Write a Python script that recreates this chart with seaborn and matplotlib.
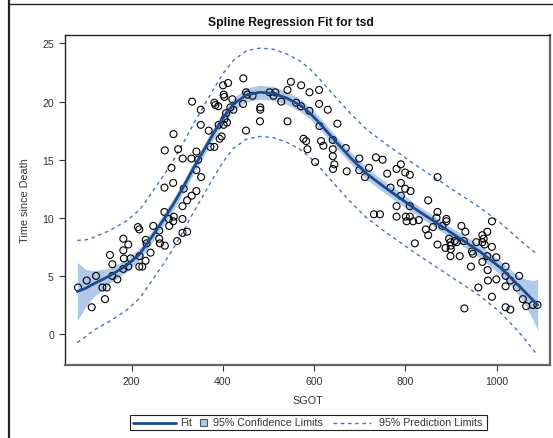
import numpy as np
import pandas as pd
import matplotlib
matplotlib.use("Agg")
import matplotlib.pyplot as plt
from matplotlib.lines import Line2D
from matplotlib.patches import Rectangle
import seaborn as sns

# Observations: SGOT vs. time since death
sgot = [82.6, 101.6, 112.6, 122.0, 136.0, 145.4, 141.6, 152.6, 157.8, 157.8,
        168.7, 181.8, 192.7, 181.8, 183.0, 197.8, 181.8, 192.7, 217.5, 216.8,
        223.4, 230.6, 213.8, 216.8, 231.0, 232.8, 241.5, 247.4, 260.5, 260.5,
        262.0, 272.8, 272.0, 281.5, 282.3, 292.5, 291.1, 299.8, 311.5, 321.7,
        311.5, 311.5, 321.7, 331.8, 342.0, 272.0, 291.1, 314.3, 287.4, 272.8,
        291.8, 302.0, 312.0, 331.0, 342.0, 345.8, 342.0, 352.3, 332.6, 351.5,
        351.5, 369.0, 372.7, 381.4, 381.4, 383.6, 390.0, 400.4, 411.4, 401.7,
        403.3, 420.8, 406.9, 403.9, 401.7, 409.0, 390.8, 397.4, 392.9, 416.4,
        423.0, 444.8, 450.7, 453.6, 444.2, 465.1, 450.7, 482.0, 482.0, 481.3,
        502.3, 514.8, 511.0, 527.9, 541.7, 549.1, 560.7, 571.6, 571.0, 541.7,
        576.6, 582.5, 585.4, 589.8, 589.8, 610.9, 610.9, 629.9, 651.0, 611.6,
        602.2, 615.3, 620.3, 640.9, 640.9, 640.9, 644.4, 641.5, 671.5, 669.3,
        699.0, 699.0, 720.2, 711.5, 735.5, 750.1, 760.2, 780.7, 790.1, 799.6,
        809.8, 790.1, 767.5, 799.6, 811.4, 790.1, 780.7, 809.8, 731.1, 744.3,
        780.7, 801.0, 809.8, 802.6, 817.0, 829.5, 850.0, 870.4, 870.4, 868.2,
        890.0, 890.0, 881.3, 844.8, 850.0, 860.5, 820.8, 870.4, 887.9, 895.7,
        898.8, 899.5, 899.5, 908.2, 912.6, 922.8, 931.5, 927.9, 898.8, 919.1,
        946.0, 948.2, 955.6, 968.7, 971.6, 968.7, 979.6, 989.7, 989.7, 979.6,
        999.3, 973.8, 929.3, 943.8, 968.7, 960.0, 980.3, 981.0, 989.7, 999.3,
        1019.7, 1019.7, 1019.7, 1030.0, 1019.7, 1030.0, 1049.4, 1044.4, 1057.5, 1064.8,
        1079.4, 1089.6]
tsd = [4.0, 4.6, 2.3, 5.0, 4.0, 4.0, 3.0, 6.8, 6.0, 5.0,
       4.7, 8.2, 7.7, 7.2, 6.5, 6.5, 5.6, 5.8, 6.7, 5.8,
       5.8, 6.3, 9.2, 9.0, 8.1, 7.8, 7.0, 9.3, 8.9, 8.2,
       7.8, 7.6, 10.5, 9.9, 9.3, 10.1, 9.7, 8.0, 8.7, 8.8,
       9.9, 11.0, 11.5, 11.9, 12.3, 12.6, 13.0, 12.5, 14.3, 15.8,
       17.2, 15.9, 15.1, 15.1, 15.7, 15.0, 14.1, 13.5, 20.0, 19.3,
       18.0, 17.5, 16.1, 16.1, 19.9, 19.7, 19.6, 21.4, 21.6, 20.6,
       20.4, 20.2, 19.0, 18.5, 18.0, 18.2, 18.0, 17.0, 16.8, 19.5,
       19.3, 22.0, 20.8, 20.6, 19.8, 20.5, 17.5, 19.5, 19.3, 18.3,
       20.8, 20.8, 20.5, 20.0, 21.0, 21.7, 19.9, 21.4, 19.6, 18.3,
       16.8, 16.6, 15.9, 20.8, 19.2, 21.0, 19.8, 19.3, 18.1, 17.9,
       14.8, 16.6, 16.2, 16.7, 15.9, 15.3, 14.6, 14.2, 14.0, 16.0,
       15.1, 14.1, 14.3, 13.5, 15.2, 15.0, 13.8, 14.2, 14.6, 13.9,
       13.7, 13.0, 12.6, 12.5, 12.3, 11.9, 11.0, 11.0, 10.3, 10.3,
       10.1, 10.1, 10.1, 9.7, 9.7, 9.8, 11.5, 13.5, 10.5, 10.0,
       9.9, 9.7, 9.3, 9.0, 8.5, 9.2, 7.8, 7.7, 7.4, 8.2,
       7.9, 7.6, 7.3, 8.0, 7.9, 9.3, 8.8, 8.0, 6.7, 6.7,
       7.1, 6.9, 7.9, 7.9, 8.2, 8.5, 8.8, 9.7, 7.5, 6.7,
       6.6, 7.7, 2.2, 5.8, 6.2, 4.0, 5.5, 4.6, 3.2, 4.7,
       5.8, 5.0, 4.1, 4.6, 2.3, 2.1, 5.0, 4.0, 3.0, 2.4,
       2.5, 2.5]

# Spline fit with half-widths of the 95% confidence and prediction limits
curve_x = [81, 100, 116, 152, 189, 218, 245, 271, 292, 314,
           336, 358, 380, 402, 424, 453, 482, 511, 540, 569,
           591, 613, 642, 679, 715, 759, 788, 824, 861, 897,
           934, 963, 1007, 1036, 1050, 1065, 1080, 1090]
fit_y = [3.65, 3.95, 4.3, 5.0, 5.9, 6.9, 8.4, 9.9, 11.2, 12.7,
         14.3, 15.8, 17.3, 18.7, 19.8, 20.6, 20.8, 20.7, 20.3, 19.7,
         19.0, 18.1, 16.8, 15.2, 13.8, 12.5, 11.7, 10.7, 9.75, 8.8,
         7.85, 7.1, 5.75, 4.65, 4.1, 3.5, 2.9, 2.5]
cl_half = [2.5, 1.6, 1.15, 0.65, 0.55, 0.5, 0.5, 0.5, 0.5, 0.5,
           0.5, 0.5, 0.5, 0.5, 0.55, 0.6, 0.6, 0.6, 0.55, 0.55,
           0.5, 0.5, 0.5, 0.5, 0.5, 0.5, 0.5, 0.45, 0.45, 0.45,
           0.5, 0.55, 0.6, 0.7, 0.85, 1.2, 1.7, 2.2]
pl_half = [4.4, 4.15, 4.0, 3.9, 3.85, 3.8, 3.8, 3.8, 3.8, 3.8,
           3.8, 3.8, 3.8, 3.8, 3.8, 3.8, 3.8, 3.8, 3.8, 3.8,
           3.8, 3.8, 3.8, 3.8, 3.8, 3.8, 3.8, 3.8, 3.8, 3.8,
           3.8, 3.8, 3.85, 3.95, 4.0, 4.1, 4.25, 4.35]

x_ticks = [200, 400, 600, 800, 1000]
y_ticks = [0, 5, 10, 15, 20, 25]
legend_labels = ["Fit", "95% Confidence Limits", "95% Prediction Limits"]

sns.set_style("white")
plt.rcParams["font.family"] = ["Liberation Sans", "DejaVu Sans"]

FIT = "#1f4a8c"
BAND = "#b0c9e8"
PRED = "#4a72b8"
TEXT = "#333333"
DASH = (0, (2.6, 2.6))

obs = pd.DataFrame({"SGOT": sgot, "tsd": tsd})
curve = pd.DataFrame({"SGOT": curve_x, "fit": fit_y, "cl": cl_half, "pl": pl_half})
curve["cl_lo"] = curve["fit"] - curve["cl"]
curve["cl_hi"] = curve["fit"] + curve["cl"]
curve["pl_lo"] = curve["fit"] - curve["pl"]
curve["pl_hi"] = curve["fit"] + curve["pl"]

W, H = 553, 439
fig = plt.figure(figsize=(W / 100, H / 100), dpi=100)
ax = fig.add_axes([65 / W, (H - 366) / H, (550 - 65) / W, (366 - 36) / H])

ax.fill_between(curve["SGOT"], curve["cl_lo"], curve["cl_hi"], color=BAND, lw=0, zorder=1)
sns.lineplot(data=curve, x="SGOT", y="pl_lo", ax=ax, color=PRED, lw=1.0,
             linestyle=DASH, sort=False, estimator=None, zorder=2)
sns.lineplot(data=curve, x="SGOT", y="pl_hi", ax=ax, color=PRED, lw=1.0,
             linestyle=DASH, sort=False, estimator=None, zorder=2)
sns.scatterplot(data=obs, x="SGOT", y="tsd", ax=ax, marker="o", s=25,
                facecolors="none", edgecolor="black", linewidth=0.8, zorder=3)
sns.lineplot(data=curve, x="SGOT", y="fit", ax=ax, color=FIT, lw=2.0,
             sort=False, estimator=None, zorder=4)

ax.set_xlim(54, 1117)
ax.set_ylim(-2.67, 25.73)
ax.set_xticks(x_ticks)
ax.set_yticks(y_ticks)
ax.tick_params(axis="both", direction="out", length=4.5, width=0.8, color=TEXT,
               labelsize=7.6, labelcolor=TEXT, pad=3.5, bottom=True, left=True)
ax.set_xlabel("SGOT", fontsize=7.8, color=TEXT, labelpad=6.5)
ax.set_ylabel("Time since Death", fontsize=7.8, color=TEXT, labelpad=9)

fig.text(290.5 / W, 1 - 23 / H, "Spline Regression Fit for tsd", fontsize=8.7,
         fontweight="bold", color="#111111", ha="center", va="center")

for side in ["top", "left"]:
    ax.spines[side].set_color("#222222")
    ax.spines[side].set_linewidth(1.0)
for side in ["right", "bottom"]:
    ax.spines[side].set_color("#666666")
    ax.spines[side].set_linewidth(1.6)


def fx(px):
    return px / W


def fy(py):
    return 1 - py / H


# legend row below the plot
ly = 423.5
fig.add_artist(Rectangle((fx(129.5), fy(431)), (486.5 - 129.5) / W, 15 / H,
                         transform=fig.transFigure, facecolor="white",
                         edgecolor="#222222", lw=0.8))
fig.add_artist(Line2D([fx(133), fx(176)], [fy(ly), fy(ly)], color=FIT, lw=2.0,
                      transform=fig.transFigure))
fig.text(fx(180), fy(ly), legend_labels[0], fontsize=7.7, color=TEXT, va="center", ha="left")
fig.add_artist(Rectangle((fx(199.5), fy(427)), 7 / W, 7 / H, transform=fig.transFigure,
                         facecolor=BAND, edgecolor="#555555", lw=0.8))
fig.text(fx(213), fy(ly), legend_labels[1], fontsize=7.7, color=TEXT, va="center", ha="left")
fig.add_artist(Line2D([fx(333), fx(371)], [fy(ly), fy(ly)], color=PRED, lw=1.0,
                      linestyle=DASH, transform=fig.transFigure))
fig.text(fx(379), fy(ly), legend_labels[2], fontsize=7.7, color=TEXT, va="center", ha="left")

# outer frame lines along the top and left of the image
fig.add_artist(Line2D([9 / W, 9 / W], [0, 1], color="#222222", lw=1.6,
                      transform=fig.transFigure))
fig.add_artist(Line2D([9 / W, 1], [1 - 5 / H, 1 - 5 / H], color="#222222", lw=1.0,
                      transform=fig.transFigure))

fig.savefig("out.png", dpi=100, facecolor="white")
